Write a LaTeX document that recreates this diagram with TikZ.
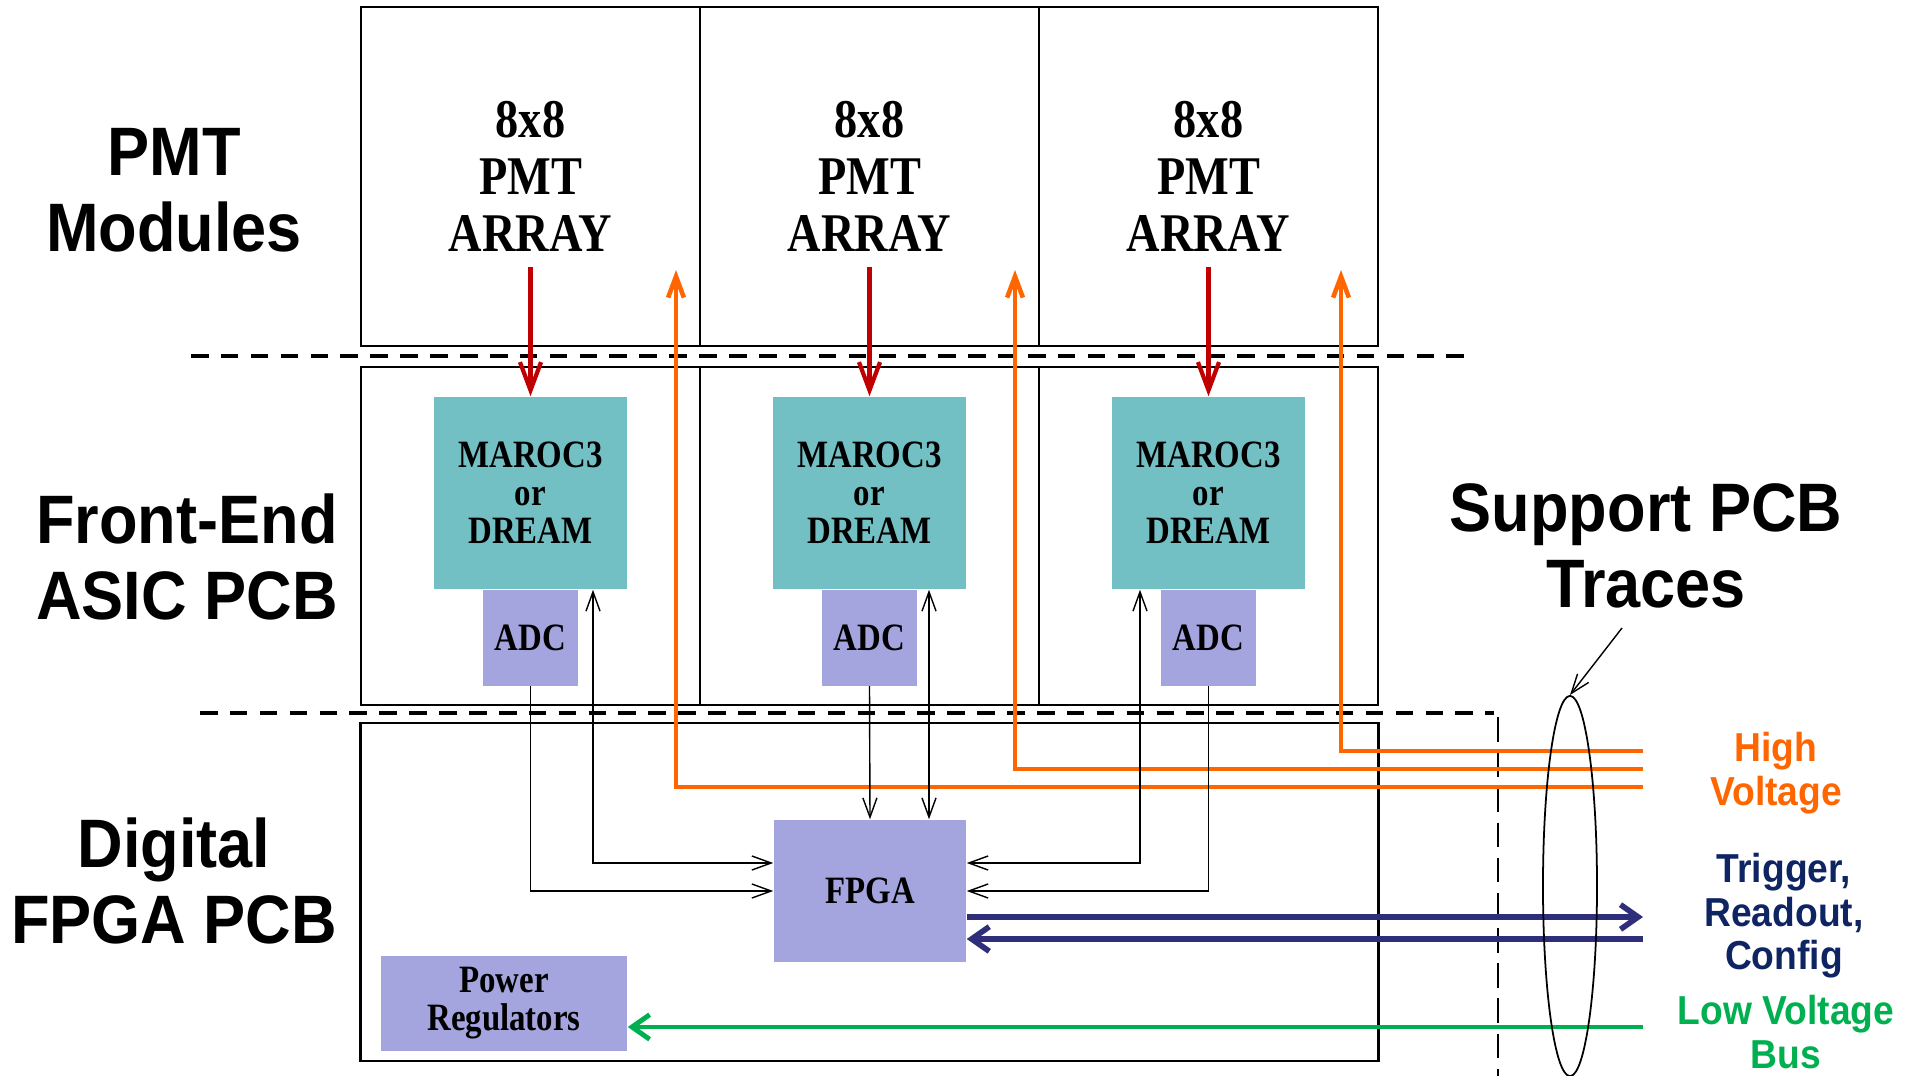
\documentclass[tikz,border=0pt]{standalone}
\usepackage{fontspec}
\setmainfont{Liberation Serif}[FakeStretch=0.85]
\setsansfont{Liberation Sans}[FakeStretch=0.92]
\usetikzlibrary{arrows.meta,shapes.geometric}

\definecolor{asicteal}{RGB}{114,191,196}
\definecolor{chiplilac}{RGB}{164,164,222}
\definecolor{pmtred}{RGB}{192,0,0}
\definecolor{hvorange}{RGB}{255,102,0}
\definecolor{busblue}{RGB}{46,46,122}
\definecolor{trignavy}{RGB}{15,36,99}
\definecolor{lvgreen}{RGB}{0,176,80}

\begin{document}
\begin{tikzpicture}[x=0.01cm, y=-0.01cm,
    board/.style={draw, line width=0.7pt, inner sep=0, align=center,
        font=\bfseries\fontsize{15.5}{16.2}\selectfont},
    chip/.style={fill=asicteal, inner sep=0, align=center,
        minimum width=1.92cm, minimum height=1.92cm,
        font=\bfseries\fontsize{11}{10.8}\selectfont},
    lilac/.style={chip, fill=chiplilac},
    lbl/.style={align=center, font=\sffamily\bfseries\fontsize{19.5}{21.6}\selectfont},
    tag/.style={align=center, font=\sffamily\bfseries\fontsize{11.5}{12.4}\selectfont},
    ctl/.style={black, line width=0.4pt, -{Straight Barb[length=5.5pt,width=4pt]}},
    ctlboth/.style={ctl, {Straight Barb[length=5.5pt,width=4pt]}-{Straight Barb[length=5.5pt,width=4pt]}},
    sep/.style={black, line width=1pt, dash pattern=on 5pt off 3.5pt},
  ]

    % Page size
    \useasboundingbox (0,0) rectangle (1905,1076);

    % Layer names
    \node[lbl] (pmtlbl) at (174,190) {PMT\\Modules};
    \node[lbl] (felbl) at (187,557) {Front-End\\ASIC PCB};
    \node[lbl] (diglbl) at (174,881) {Digital\\FPGA PCB};

    % Separators between layers
    \draw[sep] (191,356) -- (1470,356);
    \draw[sep] (200,713) -- (1494,713);
    \draw[sep, line width=0.7pt, dash pattern=on 7pt off 3pt] (1498,717) -- (1498,1076);

    % PMT modules and front-end boards
    \foreach \i/\x in {1/530.5, 2/869.5, 3/1208.5} {
        \node[board, minimum width=3.39cm, minimum height=3.39cm] (pmt\i) at (\x,176.5) {8x8\\PMT\\ARRAY};
        \node[board, minimum width=3.39cm, minimum height=3.38cm] (fe\i) at (\x,536) {};
        \node[chip] (maroc\i) at (\x,493) {MAROC3\\or\\DREAM};
        \node[lilac, minimum width=0.94cm, minimum height=0.95cm, anchor=north] (adc\i) at (maroc\i.south) {ADC};
        \coordinate (pmtout\i) at (\x,267);
        \draw[pmtred, line width=1.2pt, -{Straight Barb[length=8pt,width=6pt]}] (pmtout\i) -- (maroc\i.north);
    }

    % Digital board
    \node[board, minimum width=10.17cm, minimum height=3.38cm] (dig) at (869.5,892) {};
    \node[lilac, minimum height=1.42cm] (fpga) at (870,891) {FPGA};
    \node[lilac, minimum width=2.46cm, minimum height=0.95cm] (power) at (504,1003.5) {Power\\Regulators};

    % High voltage traces
    \foreach \i/\xo/\yo in {1/676/787, 2/1015/769, 3/1341/751} {
        \coordinate (hvin\i) at (1643,\yo);
        \coordinate (hvtop\i) at (\xo,270);
        \draw[hvorange, line width=1.3pt, -{Straight Barb[length=6pt,width=4.5pt]}] (hvin\i) -| (hvtop\i);
    }

    % ADC data and ASIC control
    \draw[ctl] (adc1.south) |- (fpga.west);
    \draw[ctlboth] (maroc1.south -| 593,0) |- (fpga.west |- 0,863);
    \draw[ctl] (adc2.south) -- (fpga.north);
    \draw[ctlboth] (maroc2.south -| 929,0) -- (fpga.north -| 929,0);
    \draw[ctlboth] (maroc3.south -| 1140,0) |- (fpga.east |- 0,863);
    \draw[ctl] (adc3.south) |- (fpga.east);

    % Trigger, readout and low voltage buses
    \coordinate (busout) at (1643,917);
    \coordinate (busin) at (1643,939);
    \coordinate (lvin) at (1643,1027);
    \draw[busblue, line width=1.6pt, -{Straight Barb[length=5pt,width=7pt]}] (fpga.east |- busout) -- (busout);
    \draw[busblue, line width=1.6pt, -{Straight Barb[length=5pt,width=7pt]}] (busin) -- (fpga.east |- busin);
    \draw[lvgreen, line width=1.4pt, -{Straight Barb[length=5pt,width=7pt]}] (lvin) -- (power.east |- lvin);

    % Support PCB traces
    \node[draw, ellipse, line width=0.5pt, inner sep=0, minimum width=0.54cm, minimum height=3.8cm] (bundle) at (1570,886) {};
    \node[lbl] (tracelbl) at (1646,546) {Support PCB\\Traces};
    \coordinate (tracetip) at (1622,628);
    \draw[ctl] (tracetip) -- (bundle.north);

    \node[tag, hvorange] (hvlbl) at (1776,773) {High\\Voltage};
    \node[tag, trignavy] (triglbl) at (1784,916) {Trigger,\\Readout,\\Config};
    \node[tag, lvgreen] (lvlbl) at (1786,1032) {Low Voltage\\Bus};

\end{tikzpicture}
\end{document}
